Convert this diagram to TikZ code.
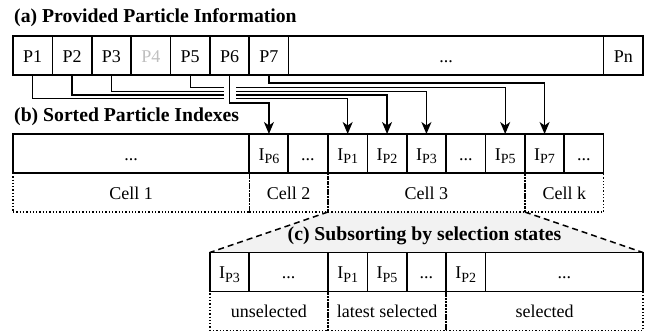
\documentclass[tikz,border=0pt]{standalone}
\usepackage{fontspec}
\setmainfont{Liberation Serif}
\usetikzlibrary{arrows.meta,backgrounds}
\definecolor{ltgray}{HTML}{BFBFBF}
\definecolor{trapfill}{HTML}{F2F2F2}
\newcommand{\idx}[1]{I\raisebox{-3.5pt}{\fontsize{14}{14}\selectfont #1}}
\begin{document}
\begin{tikzpicture}[x=1pt,y=-1pt,
  box/.style={draw, line width=1.7pt, rectangle, inner sep=0pt, outer sep=0pt,
    minimum height=39pt, minimum width=39.375pt, text height=14pt, text depth=0pt,
    font=\fontsize{18}{20}\selectfont},
  cellbox/.style={box, line width=1.3pt, dotted},
  title/.style={inner sep=0pt, font=\fontsize{19.7}{22}\selectfont\bfseries},
  conn/.style={line width=1.3pt, -{Stealth[length=12pt,width=10pt,inset=3.5pt]}},
  gap/.style={draw=white, line width=12pt},
  zoomline/.style={line width=1.5pt, dash pattern=on 6pt off 4pt},
]
\useasboundingbox (0,0) rectangle (649,334);

% titles
\node[title, anchor=base west] (ta) at (14,23) {(a) Provided Particle Information};
\node[title, anchor=base west] (tb) at (14,122) {(b) Sorted Particle Indexes};

% row a
\node[box] (p1) at (32.69,55.5) {P1};
\node[box] (p2) at (72.06,55.5) {P2};
\node[box] (p3) at (111.44,55.5) {P3};
\node[box, text=ltgray] (p4) at (150.81,55.5) {P4};
\node[box] (p5) at (190.19,55.5) {P5};
\node[box] (p6) at (229.56,55.5) {P6};
\node[box] (p7) at (268.94,55.5) {P7};
\node[box, minimum width=315pt] (pdots) at (446.125,55.5) {...};
\node[box] (pn) at (623.31,55.5) {Pn};

% cells of row b
\node[cellbox, minimum width=236.25pt] (cell1) at (131.125,192.5) {Cell 1};
\node[cellbox, minimum width=78.75pt] (cell2) at (288.625,192.5) {Cell 2};
\node[cellbox, minimum width=196.875pt] (cell3) at (426.44,192.5) {Cell 3};
\node[cellbox, minimum width=78.75pt] (cellk) at (564.25,192.5) {Cell k};

% row b
\node[box, minimum width=236.25pt] (bd1) at (131.125,153.5) {...};
\node[box] (i6) at (268.94,153.5) {\idx{P6}};
\node[box] (bd2) at (307.81,153.5) {...};
\node[box] (i1) at (347.69,153.5) {\idx{P1}};
\node[box] (i2) at (387.06,153.5) {\idx{P2}};
\node[box] (i3) at (426.44,153.5) {\idx{P3}};
\node[box] (bd3) at (465.81,153.5) {...};
\node[box] (i5) at (505.19,153.5) {\idx{P5}};
\node[box] (i7) at (544.56,153.5) {\idx{P7}};
\node[box] (bd4) at (583.94,153.5) {...};

% cells of row c
\node[cellbox, minimum width=118.125pt] (unsel) at (268.94,311) {unselected};
\node[cellbox, minimum width=118.125pt] (latest) at (387.06,311) {latest selected};
\node[cellbox, minimum width=196.875pt] (sel) at (544.56,311) {selected};

% row c
\node[box] (ci3) at (229.56,272) {\idx{P3}};
\node[box, minimum width=78.75pt] (cd1) at (288.625,272) {...};
\node[box] (ci1) at (347.69,272) {\idx{P1}};
\node[box] (ci5) at (387.06,272) {\idx{P5}};
\node[box] (cd2) at (426.44,272) {...};
\node[box] (ci2) at (465.81,272) {\idx{P2}};
\node[box, minimum width=157.5pt] (cd3) at (564.25,272) {...};

% zoom trapezoid
\begin{scope}[on background layer]
\fill[trapfill] (cell3.south west) -- (cell3.south east) -- (cd3.north east) -- (ci3.north west) -- cycle;
\end{scope}
\draw[zoomline] (cell3.south west) -- (ci3.north west);
\draw[zoomline] (cell3.south east) -- (cd3.north east);
\node[title, anchor=base] (tc) at (424.5,241) {(c) Subsorting by selection states};

% connectors
\draw[conn] (p1.south) -- ++(0,23.7) -| (i1.north);
\draw[conn] (p2.south) -- ++(0,20) -| (i2.north);
\draw[conn] (p3.south) -- ++(0,16.3) -| (i3.north);
\draw[conn] (p5.south) -- ++(0,12.3) -| (i5.north);
\draw[conn] (p7.south) -- ++(0,8) -| (i7.north);
\draw[gap] ([yshift=-1.5pt]p6.south) -- ++(0,24);
\draw[conn] (p6.south) -- ++(0,28) -| (i6.north);
\end{tikzpicture}
\end{document}
